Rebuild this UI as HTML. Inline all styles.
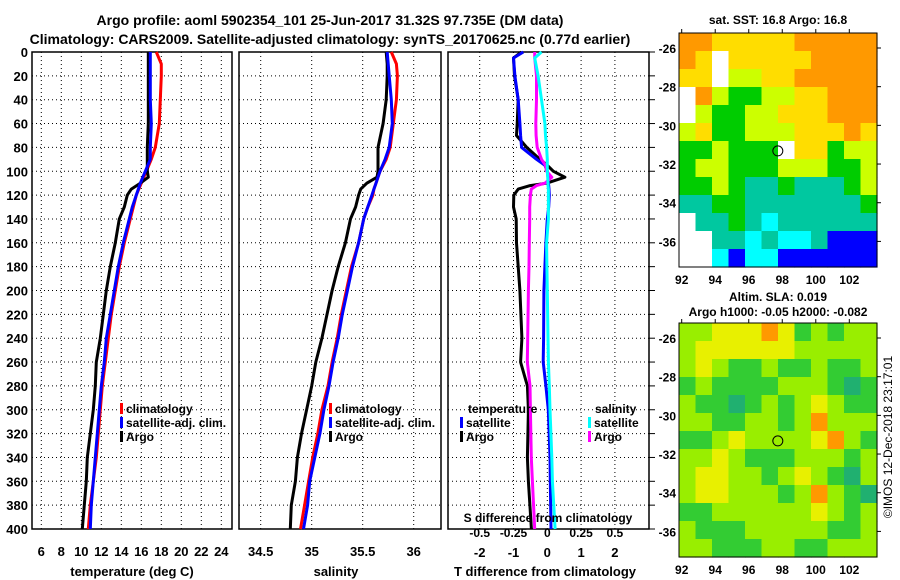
<!DOCTYPE html>
<html><head><meta charset="utf-8">
<style>
html,body{margin:0;padding:0;background:#fff;}
svg{display:block;font-family:"Liberation Sans",Arial,sans-serif;font-weight:bold;}
</style></head>
<body>
<svg id="chart" width="900" height="580" viewBox="0 0 900 580">
<text x="330" y="25" font-size="14" text-anchor="middle">Argo profile: aoml 5902354_101 25-Jun-2017 31.32S 97.735E (DM data)</text>
<text x="330" y="44" font-size="14" text-anchor="middle">Climatology: CARS2009. Satellite-adjusted climatology: synTS_20170625.nc (0.77d earlier)</text>
<text x="778" y="24" font-size="12" text-anchor="middle">sat. SST: 16.8 Argo: 16.8</text>
<text x="778" y="301" font-size="12" text-anchor="middle">Altim. SLA: 0.019</text>
<text x="778" y="316" font-size="12" text-anchor="middle">Argo h1000: -0.05 h2000: -0.082</text>
<text x="0" y="0" font-size="12" font-weight="normal" text-anchor="middle" transform="translate(892,437) rotate(-90)">©IMOS 12-Dec-2018 23:17:01</text>
<g id="plots"></g>
</svg>
<script>
// ---- data ----
const depthsTS = [0,10,20,40,60,80,90,100,105,110,115,120,130,140,160,180,200,220,240,260,280,300,320,340,360,380,400];
const tempClim = [17.5,18.0,18.0,17.9,17.8,17.4,17.0,16.5,16.25,16.0,15.75,15.5,15.2,14.9,14.3,13.8,13.4,13.0,12.7,12.4,12.1,11.9,11.7,11.5,11.2,10.9,10.7];
const tempSat  = [16.9,16.9,16.9,16.9,17.0,16.9,16.9,16.4,16.15,15.9,15.7,15.5,15.1,14.8,14.2,13.7,13.3,12.9,12.5,12.3,12.0,11.8,11.6,11.4,11.2,11.0,10.9];
const tempArgo = [16.7,16.7,16.7,16.7,16.7,16.6,16.6,16.6,16.7,15.9,15.0,14.6,14.3,13.8,13.4,12.9,12.5,12.2,11.9,11.5,11.4,11.2,10.9,10.6,10.5,10.3,10.1];
const salClim  = [35.78,35.83,35.84,35.83,35.80,35.77,35.73,35.67,35.65,35.63,35.61,35.60,35.55,35.51,35.46,35.39,35.34,35.29,35.25,35.20,35.16,35.10,35.06,35.01,34.97,34.93,34.89];
const salSat   = [35.74,35.75,35.76,35.78,35.79,35.76,35.72,35.67,35.65,35.63,35.61,35.59,35.55,35.51,35.46,35.40,35.35,35.30,35.26,35.21,35.17,35.12,35.08,35.03,34.98,34.96,34.92];
const salArgo  = [35.73,35.74,35.74,35.73,35.70,35.65,35.65,35.65,35.64,35.54,35.48,35.46,35.43,35.38,35.33,35.26,35.20,35.15,35.10,35.04,35.00,34.95,34.90,34.86,34.84,34.80,34.79];
const depthsDiff = [0,5,20,40,60,70,80,90,95,100,105,110,112,115,120,130,140,160,180,200,240,260,280,300,340,360,400];
const tDiffSat  = [-0.71,-1.0,-0.96,-0.86,-0.81,-0.79,-0.76,-0.32,-0.07,0,0.02,0.03,0.04,0.05,0.06,0.04,0,-0.04,-0.07,-0.1,-0.11,-0.12,-0.04,0.03,0.08,0.09,0.11];
const tDiffArgo = [-0.76,-1.0,-0.97,-0.86,-0.89,-0.91,-0.61,-0.22,0,0.18,0.52,-0.02,-0.51,-0.86,-0.99,-1.0,-0.92,-0.91,-0.86,-0.81,-0.75,-0.79,-0.59,-0.56,-0.59,-0.56,-0.47];
const sDiffSat  = [-0.043,-0.093,-0.068,-0.043,-0.018,-0.013,-0.005,0,0,0,0.003,0.005,0.005,0.008,0.008,0.008,0.008,-0.005,-0.003,0,0.005,0.008,0.015,0.02,0.033,0.038,0.058];
const sDiffArgo = [-0.093,-0.093,-0.08,-0.08,-0.085,-0.083,-0.075,-0.043,-0.013,-0.005,0.033,-0.018,-0.08,-0.118,-0.125,-0.13,-0.13,-0.133,-0.135,-0.14,-0.145,-0.148,-0.128,-0.125,-0.118,-0.11,-0.093];
const depthTicks = [0,20,40,60,80,100,120,140,160,180,200,220,240,260,280,300,320,340,360,380,400];
const tempTicks = [6,8,10,12,14,16,18,20,22,24];
const salTicks = [34.5,35,35.5,36];
const salTickLabels = ["34.5","35","35.5","36"];
const tDiffTicks = [-2,-1,0,1,2];
const sDiffTicks = [-0.5,-0.25,0,0.25,0.5];
const sDiffTickLabels = ["-0.5","-0.25","0","0.25","0.5"];
const lonTicks = [92,94,96,98,100,102];
const latTicks = [-26,-28,-30,-32,-34,-36];
const argoLon = 97.735, argoLat = -31.32;
const sstGrid = [
"ooyyyyyooooo","oywyyyyyoooo","yywllyyooooo","wolggllyyooo","wlggllyyyooo","lygglllyyyoy",
"gglgggwyyglly".slice(0,12),"gllggglllggly".slice(0,12),"gglgttgtttgl","ttggtttttttgg".slice(0,12),"wttgtcttttttg".slice(0,12),"wwttctcctbbb","wwcbccbbbbbb"];
const slaGrid = [
"llyyyoyglgll".slice(0,12),"lyyyyyylllll","lylgglgglggl","glgggglllgdg".slice(0,12),"lggdglglylgg","llggllglolll",
"gglyllllyolgo".slice(0,12),"llylggglllgl","lyyllglylgdl","lyylllglolgdl".slice(0,12),"ggllllllylgl","lggglllllggll".slice(0,12),"llgggllggll".padEnd(12,'l')];

// ---- drawing ----
const NS="http://www.w3.org/2000/svg";
const root=document.getElementById('plots');
function mk(tag,attrs,parent){const e=document.createElementNS(NS,tag);for(const k in attrs)e.setAttribute(k,attrs[k]);(parent||root).appendChild(e);return e;}
const Y0=52,Y1=529;
const yD=d=>Y0+d*(Y1-Y0)/400;

function panel(name,x0,x1,xfun,ticks,labels,showDepth){
  const g=mk('g',{});
  
  
  ticks.forEach(t=>{const l=mk('line',{x1:xfun(t),x2:xfun(t),y1:Y0,y2:Y1,stroke:'#000','stroke-width':1,'stroke-dasharray':'1,3'},g);
    });
  depthTicks.forEach(d=>{const l=mk('line',{x1:x0,x2:x1,y1:yD(d),y2:yD(d),stroke:'#000','stroke-width':1,'stroke-dasharray':'1,3'},g);
    
    if(showDepth){const t=mk('text',{x:28,y:yD(d)+5,'font-size':13,'text-anchor':'end'},g);t.textContent=d;
      }
  });
  if(labels){ticks.forEach((t,i)=>{const tx=mk('text',{x:xfun(t),y:Y1+27,'font-size':13,'text-anchor':'middle'},g);tx.textContent=labels[i];
    });}
  const r=mk('rect',{x:x0,y:Y0,width:x1-x0,height:Y1-Y0,fill:'none',stroke:'#000','stroke-width':1.5},g);
  
  return g;
}
function line(g,xs,ds,xfun,color,name){
  const pts=xs.map((v,i)=>xfun(v).toFixed(1)+','+yD(ds[i]).toFixed(1)).join(' ');
  const p=mk('polyline',{points:pts,fill:'none',stroke:color,'stroke-width':3,'stroke-linejoin':'round'},g);
  
}
function legend(g,x,y,color,label,name){
  const r=mk('rect',{x:x,y:y-10,width:3,height:11,fill:color},g);
  
  const t=mk('text',{x:x+6,y:y,'font-size':12},g);t.textContent=label;
  
}
function txt(g,x,y,s,size,anchor,name){const t=mk('text',{x:x,y:y,'font-size':size,'text-anchor':anchor||'start'},g);t.textContent=s;
  return t;}

// temperature
const xT=v=>41.3+(v-6)*10;
const gT=panel('temperature-panel',32,232,xT,tempTicks,tempTicks.map(String),true);
line(gT,tempClim,depthsTS,xT,'#ff0000','temp-climatology-line');
line(gT,tempArgo,depthsTS,xT,'#000000','temp-argo-line');
line(gT,tempSat,depthsTS,xT,'#0000ff','temp-satellite-line');
legend(gT,120,413,'#ff0000','climatology','legend-climatology');
legend(gT,120,427,'#0000ff','satellite-adj. clim.','legend-satellite-adj');
legend(gT,120,441,'#000000','Argo','legend-argo');
txt(gT,132,576,'temperature (deg C)',13,'middle','x-axis-title-temperature');

// salinity
const xS=v=>260.7+(v-34.5)*102;
const gS=panel('salinity-panel',239,441,xS,salTicks,salTickLabels,false);
line(gS,salClim,depthsTS,xS,'#ff0000','sal-climatology-line');
line(gS,salArgo,depthsTS,xS,'#000000','sal-argo-line');
line(gS,salSat,depthsTS,xS,'#0000ff','sal-satellite-line');
legend(gS,329,413,'#ff0000','climatology','legend-climatology-sal');
legend(gS,329,427,'#0000ff','satellite-adj. clim.','legend-satellite-adj-sal');
legend(gS,329,441,'#000000','Argo','legend-argo-sal');
txt(gS,336,576,'salinity',13,'middle','x-axis-title-salinity');

// difference
const xDT=v=>547.3+v*33.8;
const xDS=v=>547.3+v*4*33.8;
const gD=panel('difference-panel',448,649,xDT,tDiffTicks,null,false);
tDiffTicks.forEach(t=>txt(gD,xDT(t),557,String(t),13,'middle','t-diff-tick-label'));
depthTicks.forEach(d=>{const l=mk('line',{x1:649,x2:655,y1:yD(d),y2:yD(d),stroke:'#000','stroke-width':1},gD);
  });
line(gD,tDiffArgo,depthsDiff,xDT,'#000000','t-diff-argo-line');
line(gD,tDiffSat,depthsDiff,xDT,'#0000ff','t-diff-satellite-line');
line(gD,sDiffArgo,depthsDiff,xDS,'#ff00ff','s-diff-argo-line');
line(gD,sDiffSat,depthsDiff,xDS,'#00ffff','s-diff-satellite-line');
txt(gD,468,413,'temperature',12,'start','legend-temperature-heading');
legend(gD,460,427,'#0000ff','satellite','legend-t-satellite');
legend(gD,460,441,'#000000','Argo','legend-t-argo');
txt(gD,595,413,'salinity',12,'start','legend-salinity-heading');
legend(gD,588,427,'#00ffff','satellite','legend-s-satellite');
legend(gD,588,441,'#ff00ff','Argo','legend-s-argo');
txt(gD,548,522,'S difference from climatology',12,'middle','s-diff-axis-title');
sDiffTicks.forEach((t,i)=>txt(gD,xDS(t),537,sDiffTickLabels[i],12,'middle','s-diff-tick-label'));
txt(gD,545,576,'T difference from climatology',13,'middle','x-axis-title-difference');

// maps
const palSST={o:'#ff9900',y:'#ffdd00',l:'#ccff00',g:'#00cc00',t:'#00c8a0',c:'#00ffff',b:'#0000ff',w:'#ffffff',r:'#ff0000'};
const palSLA={o:'#ff9900',y:'#e8f000',l:'#99ee00',g:'#33cc33',d:'#20b070',w:'#ffffff'};
function map(name,top,bottom,grid,pal,lonY){
  const L=679,R=877;
  const g=mk('g',{});
  
  const rows=grid.length,cols=12,cw=(R-L)/cols,ch=(bottom-top)/rows;
  grid.forEach((row,ri)=>{for(let ci=0;ci<cols;ci++){const c=row[ci]||'l';
    const r=mk('rect',{x:(L+ci*cw).toFixed(1),y:(top+ri*ch).toFixed(1),width:(cw+0.6).toFixed(1),height:(ch+0.6).toFixed(1),fill:pal[c]},g);
    }});
  const lonX=v=>681.7+(v-92)*16.76;
  const latY=v=>top+15+(-26-v)*19.34;
  const f=mk('rect',{x:L,y:top,width:R-L,height:bottom-top,fill:'none',stroke:'#000','stroke-width':1},g);
  
  lonTicks.forEach(v=>{txt(g,lonX(v),lonY,String(v),12,'middle','lon-tick-label');
    const t=mk('line',{x1:lonX(v),x2:lonX(v),y1:top-4,y2:top,stroke:'#000'},g);});
  latTicks.forEach(v=>{txt(g,676,latY(v)+5,String(v),12,'end','lat-tick-label');
    const t=mk('line',{x1:R,x2:R+4,y1:latY(v),y2:latY(v),stroke:'#000'},g);});
  const c=mk('circle',{cx:lonX(argoLon),cy:latY(argoLat),r:5,fill:'none',stroke:'#000','stroke-width':1},g);
  
}
map('sst-map',33,267,sstGrid,palSST,284);
map('sla-map',323,557,slaGrid,palSLA,574);
</script>
</body></html>
